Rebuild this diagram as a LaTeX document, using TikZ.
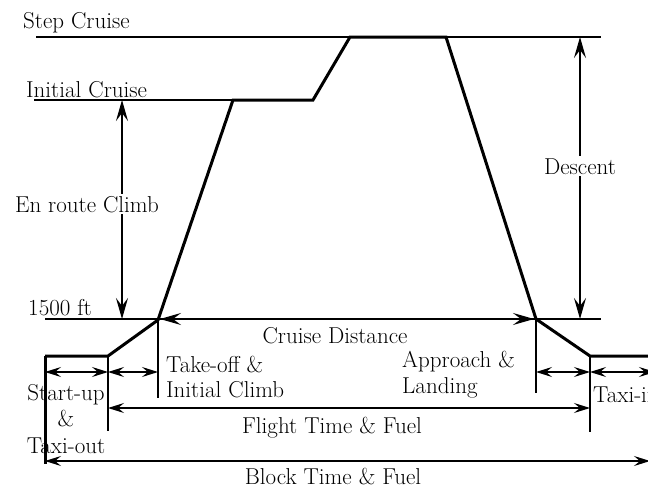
\documentclass[tikz,border=0pt]{standalone}
\usepackage{fontspec}
\setmainfont{Latin Modern Roman}
\usetikzlibrary{arrows.meta}
\begin{document}
\begin{tikzpicture}[x=1pt,y=-1pt,
  thin line/.style={line width=1.2pt},
  thick line/.style={line width=3pt, line join=miter},
  dim/.style={line width=1.2pt, {Stealth[length=21pt,width=12pt,inset=8pt]}-{Stealth[length=21pt,width=12pt,inset=8pt]}},
  dims/.style={line width=1.2pt, {Stealth[length=16pt,width=10pt,inset=6pt]}-{Stealth[length=16pt,width=10pt,inset=6pt]}},
  lbl/.style={inner sep=0pt, font=\fontsize{23}{27}\selectfont},
  lblw/.style={lbl, fill=white, inner sep=2pt}]
\useasboundingbox (0,0) rectangle (648,490);
\clip (0,0) rectangle (648,490);
% key points
\coordinate (sc0) at (36,37);   \coordinate (sc1) at (601,37);
\coordinate (ic0) at (34,100);  \coordinate (ic1) at (233,100);
\coordinate (lo0) at (45,319);  \coordinate (lo1) at (601,319);
\coordinate (p1) at (45,356);   \coordinate (p2) at (108,356);
\coordinate (p3) at (158,320);  \coordinate (p4) at (233,100);
\coordinate (p5) at (313,100);  \coordinate (p6) at (350,37);
\coordinate (p7) at (446,37);   \coordinate (p8) at (536,319);
\coordinate (p9) at (590,356);  \coordinate (p10) at (670,356);
\coordinate (v1b) at (45,464);  \coordinate (v2b) at (108,431);
\coordinate (v3b) at (158,398); \coordinate (v4b) at (536,393);
\coordinate (v5b) at (590,432);
\coordinate (erT) at (122,100); \coordinate (erB) at (122,319);
\coordinate (deT) at (580,37);  \coordinate (deB) at (580,319);
\coordinate (cdL) at (160,319); \coordinate (cdR) at (534,319);
\coordinate (a1) at (45,372);  \coordinate (a2) at (108,372);
\coordinate (a3) at (158,372); \coordinate (a4) at (536,372);
\coordinate (a5) at (590,372); \coordinate (a6) at (655,372);
\coordinate (fL) at (108,408); \coordinate (fR) at (590,408);
\coordinate (bL) at (45,461);  \coordinate (bR) at (650,461);
% reference levels
\draw[thin line] (sc0) -- (sc1);
\draw[thin line] (ic0) -- (ic1);
\draw[thin line] (lo0) -- (lo1);
% tick verticals
\draw[thick line] (p1) -- (v1b);
\draw[thin line] (p2) -- (v2b);
\draw[thin line] (p3) -- (v3b);
\draw[thin line] (p8) -- (v4b);
\draw[thin line] (p9) -- (v5b);
% flight profile
\draw[thick line] (p1) -- (p2) -- (p3) -- (p4) -- (p5) -- (p6) -- (p7) -- (p8) -- (p9) -- (p10);
% dimension arrows
\draw[dim] (erT) -- (erB);
\draw[dim] (deT) -- (deB);
\draw[dim] (cdL) -- (cdR);
\draw[dims] (a1) -- (a2);
\draw[dims] (a2) -- (a3);
\draw[dims] (a4) -- (a5);
\draw[dims] (a5) -- (a6);
\draw[dims] (fL) -- (fR);
\draw[dims] (bL) -- (bR);
% labels
\node[lbl, anchor=base west] (tsc) at (23,28) {Step Cruise};
\node[lbl, anchor=base west] (tic) at (26,97) {Initial Cruise};
\node[lbl, anchor=base west] (t15) at (28,315) {1500 ft};
\node[lblw, anchor=base] (ter) at (87,212) {En route Climb};
\node[lblw, anchor=base] (tde) at (580,174) {Descent};
\node[lbl, anchor=base] (tcd) at (335,343) {Cruise Distance};
\node[lbl, anchor=base] (tsu1) at (66,400) {Start-up};
\node[lbl, anchor=base] (tsu2) at (66,426) {\&};
\node[lbl, anchor=base] (tsu3) at (66,453) {Taxi-out};
\node[lbl, anchor=base west] (tto1) at (166,372) {Take-off \&};
\node[lbl, anchor=base west] (tto2) at (166,397) {Initial Climb};
\node[lbl, anchor=base west] (tap1) at (402,367) {Approach \&};
\node[lbl, anchor=base west] (tap2) at (402,393) {Landing};
\node[lbl, anchor=base west] (tti) at (593,402) {Taxi-in};
\node[lbl, anchor=base] (tft) at (332,433) {Flight Time \& Fuel};
\node[lbl, anchor=base] (tbt) at (333,484) {Block Time \& Fuel};
\end{tikzpicture}
\end{document}
